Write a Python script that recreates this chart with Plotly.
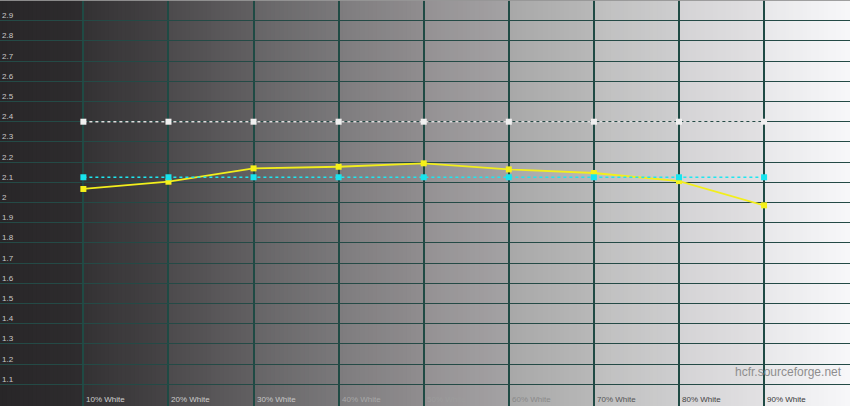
import plotly.graph_objects as go

# ---- data ----
levels = [10, 20, 30, 40, 50, 60, 70, 80, 90]
level_labels = ["10% White", "20% White", "30% White", "40% White", "50% White",
                "60% White", "70% White", "80% White", "90% White"]
gamma_target = [2.40, 2.40, 2.40, 2.40, 2.40, 2.40, 2.40, 2.40, 2.40]
gamma_reference = [2.125, 2.125, 2.125, 2.125, 2.125, 2.125, 2.125, 2.125, 2.125]
gamma_measured = [2.067, 2.103, 2.169, 2.177, 2.194, 2.164, 2.146, 2.106, 1.986]
y_ticks = [1.1, 1.2, 1.3, 1.4, 1.5, 1.6, 1.7, 1.8, 1.9, 2.0,
           2.1, 2.2, 2.3, 2.4, 2.5, 2.6, 2.7, 2.8, 2.9]
y_tick_text = ["1.1", "1.2", "1.3", "1.4", "1.5", "1.6", "1.7", "1.8", "1.9", "2",
               "2.1", "2.2", "2.3", "2.4", "2.5", "2.6", "2.7", "2.8", "2.9"]

X_RANGE = [0.2, 100.1]
Y_RANGE = [0.9926, 3.0025]

# ---- background gradient bands (start colour, end colour) per 10% band ----
bands = [
    ((40, 38, 40), (46, 44, 46)),
    ((52, 50, 52), (70, 68, 70)),
    ((76, 74, 76), (98, 96, 98)),
    ((102, 101, 103), (122, 120, 122)),
    ((126, 124, 126), (144, 141, 143)),
    ((148, 145, 147), (164, 162, 164)),
    ((168, 168, 168), (184, 184, 184)),
    ((190, 190, 190), (206, 206, 207)),
    ((212, 211, 213), (226, 225, 227)),
    ((232, 232, 234), (247, 247, 249)),
]

shapes = []
step = 0.5
for b, (c0, c1) in enumerate(bands):
    x_start = b * 10
    n = int(10 / step)
    for i in range(n):
        t = (i + 0.5) / n
        c = tuple(int(round(c0[k] + (c1[k] - c0[k]) * t)) for k in range(3))
        xa = x_start + i * step
        x_end = xa + 2 * step
        if b == len(bands) - 1 and i == n - 1:
            x_end = 101
        shapes.append(dict(type="rect", xref="x", yref="paper",
                           x0=xa if xa > 0 else -1, x1=x_end, y0=0, y1=1,
                           line=dict(width=0), fillcolor=f"rgb{c}", layer="below"))
shapes.append(dict(type="line", xref="paper", yref="paper", x0=0, x1=1, y0=1, y1=1,
                   line=dict(color="rgba(150,150,150,0.9)", width=2), layer="above"))

fig = go.Figure()

fig.add_trace(go.Scatter(
    x=levels, y=gamma_target, mode="lines+markers",
    line=dict(color="#dcdcdc", width=1.5, dash="dot"),
    marker=dict(symbol="square", size=6, color="#f0f0f0"),
    hoverinfo="skip"))

fig.add_trace(go.Scatter(
    x=levels, y=gamma_measured, mode="lines+markers",
    line=dict(color="#f2ee1c", width=1.8),
    marker=dict(symbol="square", size=6, color="#f6f01a"),
    hoverinfo="skip"))

fig.add_trace(go.Scatter(
    x=levels, y=gamma_reference, mode="lines+markers",
    line=dict(color="#1ee6f0", width=1.3, dash="dot"),
    marker=dict(symbol="square", size=6, color="#18e4ee"),
    hoverinfo="skip"))

annotations = []
for v, t in zip(y_ticks, y_tick_text):
    annotations.append(dict(x=0, xref="paper", y=v, yref="y", text=t,
                            showarrow=False, xanchor="left", yanchor="middle",
                            xshift=0, yshift=5,
                            font=dict(family="Liberation Sans, Arial", size=8, color="#c8c8c8")))

label_colors = ["#d0d0d0", "#cccccc", "#c6c6c6", "#a8a8a8", "#9c9c9c",
                "#8a8a8a", "#555555", "#444444", "#383838"]
for lv, lab, col in zip(levels, level_labels, label_colors):
    annotations.append(dict(x=lv, xref="x", y=(406 - 399) / 406, yref="paper", text=lab,
                            showarrow=False, xanchor="left", yanchor="middle", xshift=1,
                            font=dict(family="Liberation Sans, Arial", size=8, color=col)))

annotations.append(dict(x=1, xref="paper", y=(406 - 372) / 406, yref="paper",
                        text="hcfr.sourceforge.net", showarrow=False,
                        xanchor="right", yanchor="middle", xshift=-6,
                        font=dict(family="Liberation Sans, Arial", size=12, color="#8e8e8e")))

fig.update_layout(
    width=850, height=406,
    margin=dict(l=0, r=0, t=0, b=0),
    paper_bgcolor="#f0f0f0", plot_bgcolor="#2c2a2c",
    showlegend=False,
    shapes=shapes,
    annotations=annotations,
    xaxis=dict(range=X_RANGE, tickvals=levels, showticklabels=False,
               showgrid=True, gridcolor="#1f4a44", gridwidth=1.6,
               zeroline=False, showline=False, ticks="", fixedrange=True),
    yaxis=dict(range=Y_RANGE, tickvals=y_ticks, showticklabels=False,
               showgrid=True, gridcolor="#244a46", gridwidth=1.4,
               zeroline=False, showline=False, ticks="", fixedrange=True),
)

fig.write_html("out.html", config=dict(displayModeBar=False),
               post_script="document.body.style.margin='0';document.body.style.overflow='hidden';")
